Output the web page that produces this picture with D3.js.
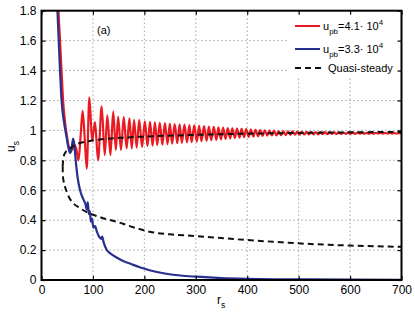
<!DOCTYPE html>
<html><head><meta charset="utf-8">
<script src="https://cdn.jsdelivr.net/npm/d3@7"></script>
<style>body{margin:0;background:#fff}svg{display:block}text{font-family:"Liberation Sans",Arial,sans-serif}</style>
</head><body><svg id="c" width="415" height="313"></svg>
<script>
const xTicks=[0,100,200,300,400,500,600,700];
const yTicks=[0,0.2,0.4,0.6,0.8,1,1.2,1.4,1.6,1.8];
const legendLabels=[{name:"u",sub:"pb",rest:"=4.1· 10",sup:"4"},{name:"u",sub:"pb",rest:"=3.3· 10",sup:"4"},{name:"Quasi-steady"}];
// red series (u_pb = 4.1e4) — extrema
const redR=[30,33,36,39,42,46,50,53,56.5,60,64,68,72,76,80,84,88,93,98.5,104,110,117,123,128,134,139.5,144.5,149,154.5,160,165.5,171,175.5,180,185,190,195.5,201,206,211,216,220.5,225,230,235,240,245,249.5,254,259,264,268.5,273,278,283,287.5,292,297,302,306.5,311,316,321,325.5,330,335,340,344,349,353,358,362,367,371,376,380,385,389,394,398,403,407,412,416,421,425,430,434,439,443,448,452,457,461,466,470,475,479,484,488,493,497,502,506,511,515,520,524,529,533,538,542,547,551,556,560,565,569,574,578,583,587,592,596,601,605,610,614,619,623,628,632,637,641,646,650,655,659,664,668,673,677,682,686,691,695,700];
const redU=[2.0,1.8,1.6,1.4,1.2,1.05,0.95,0.89,0.86,0.875,0.905,0.87,0.80,0.96,1.13,0.95,0.745,1.22,0.93,1.055,0.80,1.16,0.835,1.10,0.835,1.125,0.87,1.09,0.87,1.088,0.88,1.08,0.88,1.07,0.885,1.07,0.89,1.06,0.895,1.057,0.898,1.054,0.902,1.051,0.905,1.048,0.908,1.045,0.911,1.042,0.914,1.04,0.917,1.038,0.92,1.036,0.922,1.034,0.925,1.031,0.928,1.028,0.931,1.026,0.934,1.023,0.937,1.021,0.94,1.018,0.943,1.016,0.946,1.014,0.949,1.012,0.952,1.010,0.955,1.008,0.957,1.006,0.959,1.004,0.961,1.002,0.963,1.0,0.965,0.999,0.966,0.998,0.967,0.996,0.968,0.995,0.969,0.994,0.970,0.993,0.971,0.992,0.972,0.991,0.973,0.990,0.973,0.990,0.974,0.989,0.974,0.988,0.975,0.988,0.975,0.987,0.976,0.987,0.976,0.986,0.976,0.986,0.977,0.985,0.977,0.985,0.977,0.985,0.978,0.984,0.978,0.984,0.978,0.984,0.978,0.983,0.979,0.983,0.979,0.983,0.979,0.983,0.979,0.982,0.979,0.982,0.98];
// blue series (u_pb = 3.3e4)
const blueR=[29,31,33.5,36,39,44,49,52,55.5,58,61.5,64,66,70,75,80,84,86,88,90,92,94,96,98,101,104,108,112,116,118,121,127,135,146,160,172,191,210,237,270,302,350,399,450,500,600,700];
const blueU=[2.0,1.8,1.6,1.4,1.2,1.05,0.95,0.89,0.848,0.865,0.945,0.9,0.82,0.69,0.6,0.55,0.52,0.50,0.47,0.52,0.44,0.46,0.39,0.41,0.35,0.36,0.32,0.29,0.275,0.29,0.25,0.2,0.175,0.15,0.125,0.11,0.085,0.065,0.045,0.03,0.022,0.013,0.008,0.005,0.004,0.002,0.001];
// quasi-steady solution: lower and upper branches starting at the turning point
const qsLowR=[41.2,41.5,43,46,49,54,60,75,90,107,125,146,170,191,211,250,300,350,400,450,500,600,700];
const qsLowU=[0.76,0.70,0.66,0.62,0.59,0.55,0.52,0.48,0.45,0.428,0.408,0.39,0.362,0.34,0.322,0.305,0.294,0.28,0.267,0.256,0.245,0.23,0.222];
const qsUpR=[41.2,42,44,47,52,65,91,111,153,191,250,300,400,500,600,700];
const qsUpU=[0.76,0.80,0.835,0.855,0.872,0.902,0.928,0.938,0.95,0.957,0.965,0.97,0.978,0.983,0.987,0.99];

const svg=d3.select("#c");
const L=41.5,R=401.5,T=10.7,B=280;
const x=d3.scaleLinear().domain([0,700]).range([L,R]);
const y=d3.scaleLinear().domain([0,1.8]).range([B,T]);

// grid
const g=svg.append("g");
g.selectAll(".gx").data(xTicks.slice(1,-1)).join("line").attr("x1",d=>x(d)).attr("x2",d=>x(d)).attr("y1",T).attr("y2",B)
 .attr("stroke","#555").attr("stroke-width",0.8).attr("stroke-dasharray","1,3");
g.selectAll(".gy").data(yTicks.slice(1,-1)).join("line").attr("y1",d=>y(d)).attr("y2",d=>y(d)).attr("x1",L).attr("x2",R)
 .attr("stroke","#555").attr("stroke-width",0.8).attr("stroke-dasharray","1,3");

// legend background
svg.append("rect").attr("x",289).attr("y",T).attr("width",R-289).attr("height",78-T).attr("fill","#fff");

svg.append("clipPath").attr("id","clip").append("rect").attr("x",L).attr("y",T).attr("width",R-L).attr("height",B-T);
const plot=svg.append("g").attr("clip-path","url(#clip)");
const lineM=d3.line().x(d=>x(d[0])).y(d=>y(d[1])).curve(d3.curveMonotoneX);
const pts=(a,b)=>a.map((r,i)=>[r,b[i]]);
plot.append("path").attr("d",lineM(pts(redR,redU))).attr("fill","none").attr("stroke","#ea1a22").attr("stroke-width",2.2);
plot.append("path").attr("d",lineM(pts(blueR,blueU))).attr("fill","none").attr("stroke","#27308e").attr("stroke-width",2.2);
[[qsLowR,qsLowU],[qsUpR,qsUpU]].forEach(([a,b])=>
  plot.append("path").attr("d",lineM(pts(a,b))).attr("fill","none").attr("stroke","#111").attr("stroke-width",2).attr("stroke-dasharray","6,4"));

// axes
const fs="12px";
const ax=svg.append("g").attr("transform",`translate(0,${B})`).call(d3.axisBottom(x).tickValues(xTicks).tickSize(-4).tickPadding(5).tickFormat(d3.format("d")));
const axT=svg.append("g").attr("transform",`translate(0,${T})`).call(d3.axisTop(x).tickValues(xTicks).tickSize(-4).tickFormat(""));
const ay=svg.append("g").attr("transform",`translate(${L},0)`).call(d3.axisLeft(y).tickValues(yTicks).tickSize(-4).tickPadding(5).tickFormat(d=>d3.format("~g")(d)));
const ayR=svg.append("g").attr("transform",`translate(${R},0)`).call(d3.axisRight(y).tickValues(yTicks).tickSize(-4).tickFormat(""));
[ax,axT,ay,ayR].forEach(a=>{a.select(".domain").remove();a.selectAll("line").attr("stroke","#000").attr("stroke-width",1.2);a.selectAll("text").attr("font-size",fs).attr("fill","#000").attr("font-family","Liberation Sans, Arial, sans-serif");});
svg.append("rect").attr("x",L).attr("y",T).attr("width",R-L).attr("height",B-T).attr("fill","none").attr("stroke","#000").attr("stroke-width",2);

// labels
svg.append("text").attr("x",97).attr("y",34).attr("font-size","11px").text("(a)");
const xl=svg.append("text").attr("x",217).attr("y",304).attr("font-size","12px");
xl.append("tspan").text("r");xl.append("tspan").attr("dy",4).attr("font-size","8.5px").text("s");
const yl=svg.append("text").attr("transform","translate(15,152) rotate(-90)").attr("font-size","12px");
yl.append("tspan").text("u");yl.append("tspan").attr("dy",4).attr("font-size","8.5px").text("s");

// legend
const legY=[26,49,68],legC=["#ea1a22","#27308e","#111"],legTx=[323,323,328];
legendLabels.forEach((lb,i)=>{
  const ln=svg.append("line").attr("x1",295).attr("x2",i==2?324:320).attr("y1",legY[i]).attr("y2",legY[i]).attr("stroke",legC[i]).attr("stroke-width",2);
  if(i==2) ln.attr("stroke-dasharray","6,4");
  const t=svg.append("text").attr("x",legTx[i]).attr("y",legY[i]+4).attr("font-size","11px");
  t.append("tspan").text(lb.name);
  if(lb.sub){t.append("tspan").attr("dy",4).attr("font-size","8px").text(lb.sub);
    t.append("tspan").attr("dy",-4).text(lb.rest);
    t.append("tspan").attr("dy",-5).attr("font-size","8px").text(lb.sup);}
});
</script></body></html>
